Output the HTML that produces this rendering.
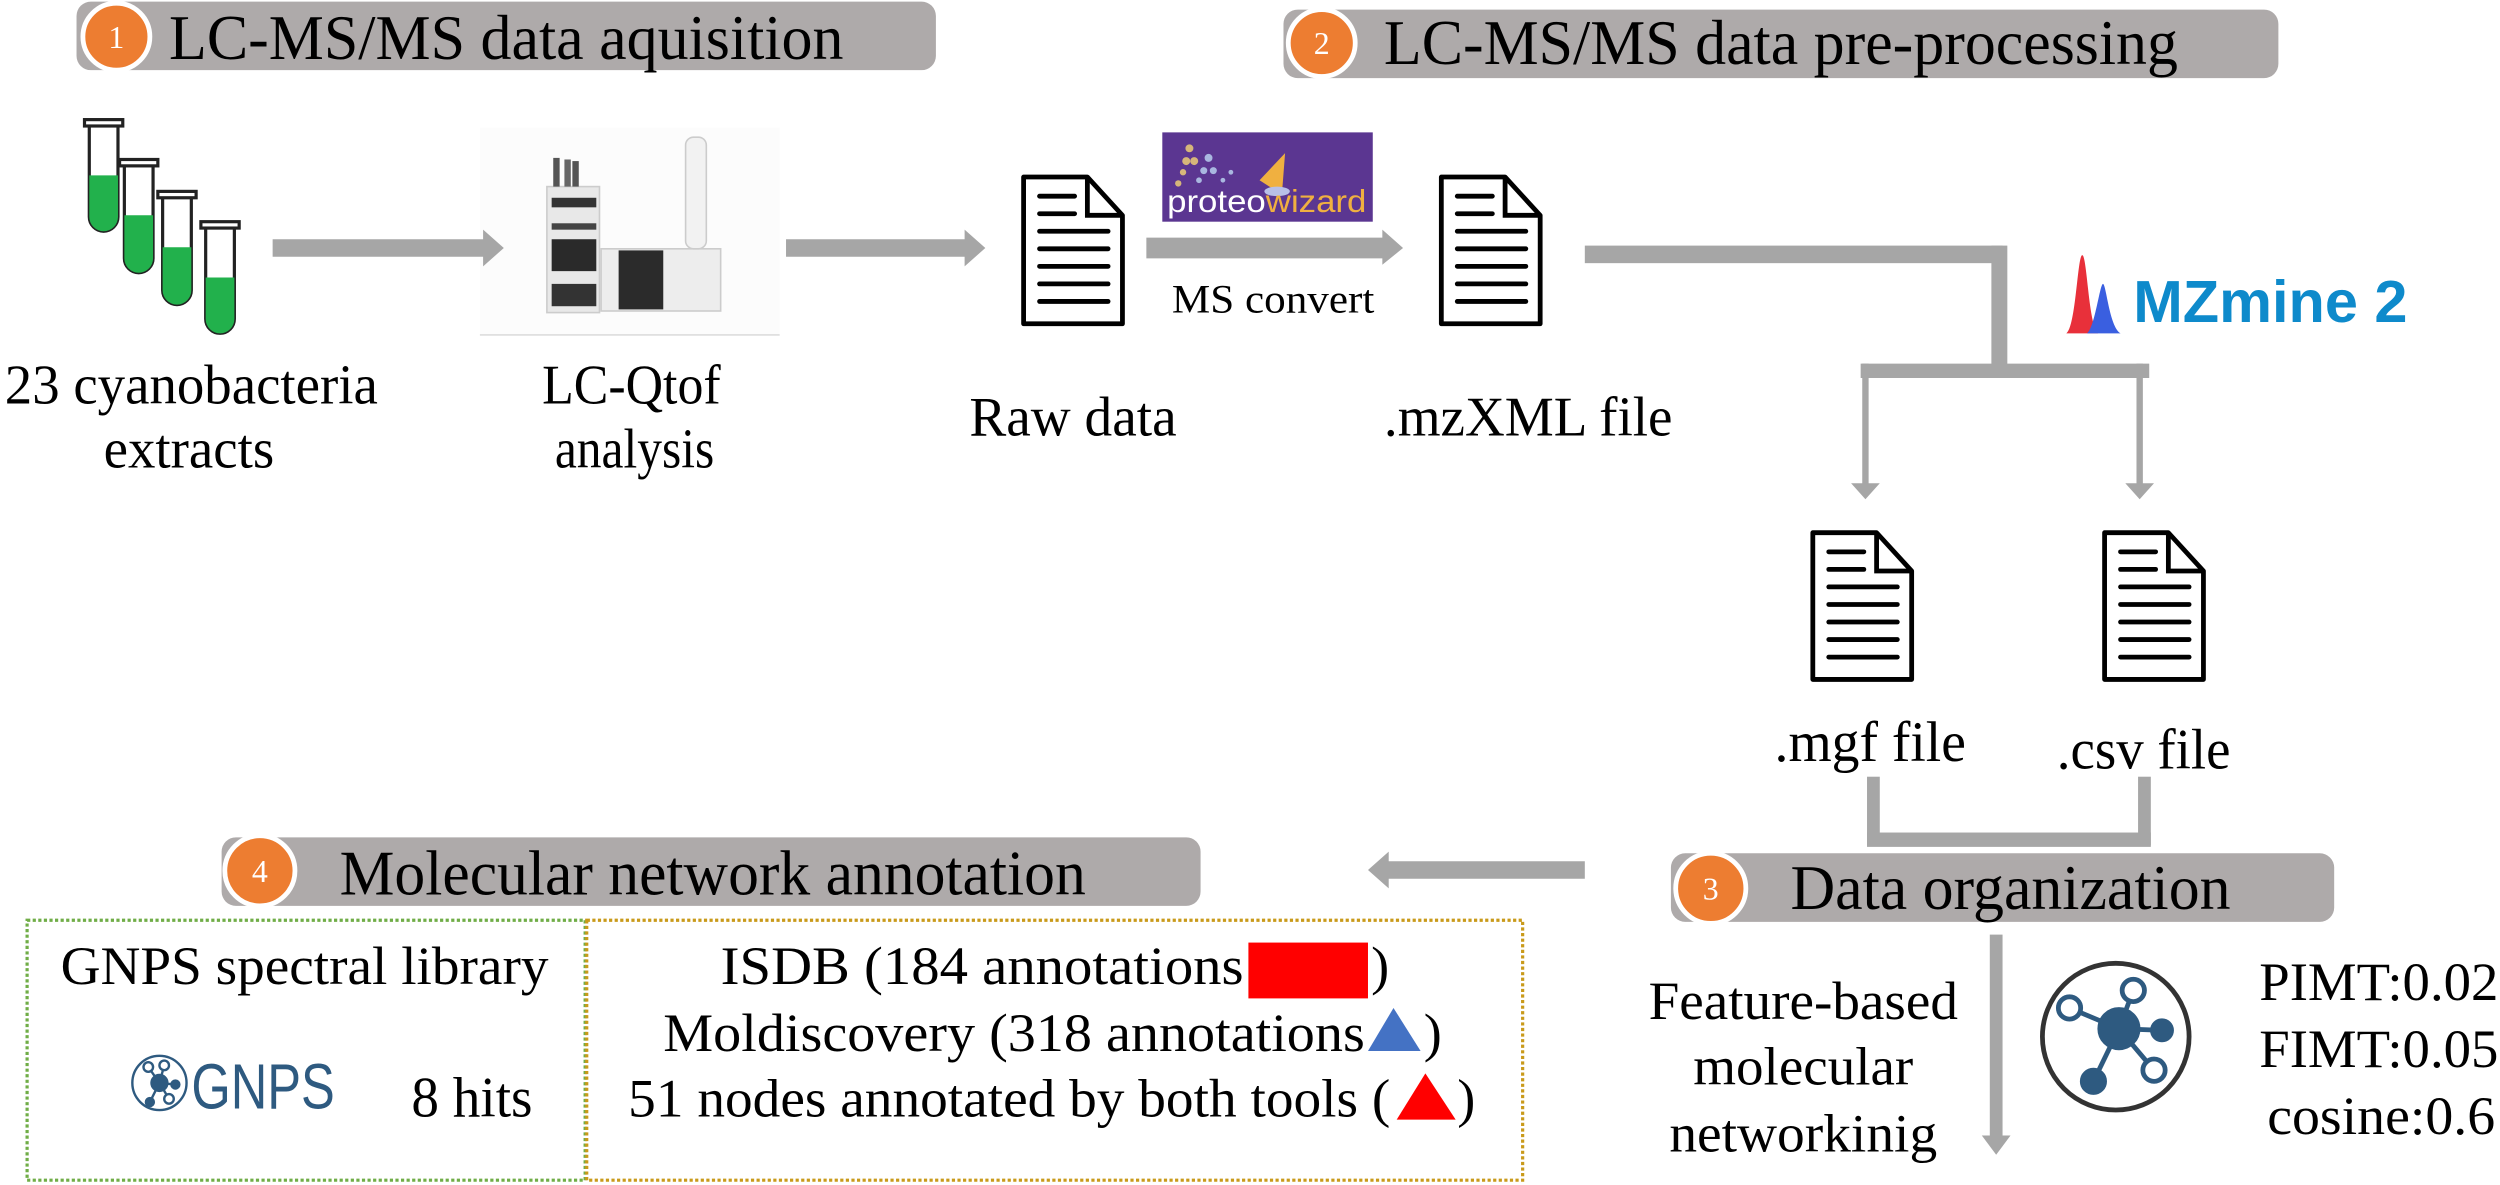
<!DOCTYPE html>
<html><head><meta charset="utf-8"><style>
html,body{margin:0;padding:0;background:#fff;}
svg{display:block;}
text{font-family:"Liberation Serif",serif;fill:#000;}
</style></head><body>
<svg width="2500" height="1185" viewBox="0 0 1568 743" preserveAspectRatio="none" xmlns="http://www.w3.org/2000/svg">
<defs>
<g id="doc">
<path d="M0,0 H40 L62,24 V92 H0 Z" fill="#fff" stroke="#000" stroke-width="3" stroke-linejoin="round"/>
<path d="M40,0 V24 H62" fill="none" stroke="#000" stroke-width="3"/>
<g stroke="#000" stroke-width="3" stroke-linecap="round">
<line x1="10" y1="12" x2="32" y2="12"/><line x1="10" y1="23" x2="32" y2="23"/>
<line x1="10" y1="34" x2="53" y2="34"/><line x1="10" y1="45" x2="53" y2="45"/>
<line x1="10" y1="56" x2="53" y2="56"/><line x1="10" y1="67" x2="53" y2="67"/>
<line x1="10" y1="78" x2="53" y2="78"/></g>
</g>
</defs>

<!-- Banners -->
<rect x="48" y="1" width="539" height="43" rx="9" fill="#aeaaaa"/>
<circle cx="73" cy="23" r="21" fill="#ed7d31" stroke="#fff" stroke-width="3"/>
<text x="73" y="30" font-size="20" text-anchor="middle" style="fill:#fff">1</text>
<text x="106" y="37" font-size="40" textLength="423" lengthAdjust="spacingAndGlyphs">LC-MS/MS data aquisition</text>

<rect x="805" y="6" width="624" height="43" rx="9" fill="#aeaaaa"/>
<circle cx="829" cy="27" r="21" fill="#ed7d31" stroke="#fff" stroke-width="3"/>
<text x="829" y="34" font-size="20" text-anchor="middle" style="fill:#fff">2</text>
<text x="868" y="40" font-size="40" textLength="498" lengthAdjust="spacingAndGlyphs">LC-MS/MS data pre-processing</text>

<rect x="1048" y="535" width="416" height="43" rx="9" fill="#aeaaaa"/>
<circle cx="1073" cy="557" r="22" fill="#ed7d31" stroke="#fff" stroke-width="3"/>
<text x="1073" y="564" font-size="20" text-anchor="middle" style="fill:#fff">3</text>
<text x="1123" y="570" font-size="40" textLength="276" lengthAdjust="spacingAndGlyphs">Data organization</text>

<rect x="139" y="525" width="614" height="43" rx="9" fill="#aeaaaa"/>
<circle cx="163" cy="546" r="22" fill="#ed7d31" stroke="#fff" stroke-width="3"/>
<text x="163" y="553" font-size="20" text-anchor="middle" style="fill:#fff">4</text>
<text x="213" y="561" font-size="40" textLength="468" lengthAdjust="spacingAndGlyphs">Molecular network annotation</text>

<!-- Test tubes -->
<g stroke="#222" stroke-width="2">
<path d="M56,78 V136 a9,9 0 0 0 18,0 V78" fill="#fff"/>
<path d="M56,110 V136 a9,9 0 0 0 18,0 V110 Z" fill="#22b14c" stroke="none"/>
<rect x="53" y="75" width="24" height="4" fill="#fff"/>
<path d="M78,103 V162 a9,9 0 0 0 18,0 V103" fill="#fff"/>
<path d="M78,135 V162 a9,9 0 0 0 18,0 V135 Z" fill="#22b14c" stroke="none"/>
<rect x="75" y="100" width="24" height="4" fill="#fff"/>
<path d="M102,123 V182 a9,9 0 0 0 18,0 V123" fill="#fff"/>
<path d="M102,155 V182 a9,9 0 0 0 18,0 V155 Z" fill="#22b14c" stroke="none"/>
<rect x="99" y="120" width="24" height="4" fill="#fff"/>
<path d="M129,142 V200 a9,9 0 0 0 18,0 V142" fill="#fff"/>
<path d="M129,174 V200 a9,9 0 0 0 18,0 V174 Z" fill="#22b14c" stroke="none"/>
<rect x="126" y="139" width="24" height="4" fill="#fff"/>
</g>

<!-- Instrument -->
<rect x="301" y="80" width="188" height="130" fill="#fcfcfc"/>
<line x1="301" y1="210" x2="489" y2="210" stroke="#ddd" stroke-width="1"/>
<rect x="343" y="117" width="33" height="79" fill="#e8e8e8" stroke="#ccc"/>
<rect x="346" y="124" width="28" height="6" fill="#333"/>
<rect x="346" y="140" width="28" height="4" fill="#444"/>
<rect x="346" y="150" width="28" height="20" fill="#2a2a2a"/>
<rect x="346" y="178" width="28" height="14" fill="#333"/>
<rect x="347" y="99" width="4" height="18" fill="#555"/><rect x="354" y="100" width="4" height="17" fill="#666"/><rect x="359" y="101" width="4" height="16" fill="#555"/>
<rect x="377" y="156" width="75" height="39" fill="#ededed" stroke="#ccc"/>
<rect x="388" y="157" width="28" height="37" fill="#2b2b2b"/>
<rect x="430" y="86" width="13" height="70" rx="5" fill="#f2f2f2" stroke="#ccc"/>

<!-- Arrows row 1 -->
<g fill="#a6a6a6">
<polygon points="171,150 303,150 303,144 316,155.5 303,167 303,161 171,161"/>
<polygon points="493,150 605,150 605,144 618,155.5 605,167 605,161 493,161"/>
<polygon points="719,149 867,149 867,144 880,155.5 867,166 867,162 719,162"/>
</g>

<!-- Docs -->
<use href="#doc" x="642" y="111"/>
<use href="#doc" x="904" y="111"/>
<use href="#doc" x="1137" y="334"/>
<use href="#doc" x="1320" y="334"/>

<!-- Proteowizard -->
<rect x="729" y="83" width="132" height="56" fill="#5b3691"/>
<g fill="#d6b67a"><circle cx="746" cy="93" r="2.5"/><circle cx="744" cy="101" r="2.5"/><circle cx="749" cy="101" r="2.5"/><circle cx="742" cy="108" r="2"/><circle cx="739" cy="115" r="2"/></g>
<g fill="#a9b7e0"><circle cx="758" cy="99" r="2.5"/><circle cx="755" cy="107" r="2.2"/><circle cx="761" cy="107" r="2.2"/><circle cx="752" cy="113" r="1.8"/><circle cx="767" cy="113" r="1.5"/><circle cx="772" cy="108" r="1.5"/></g>
<polygon points="790,113 806,96 804,122" fill="#f0b040"/>
<ellipse cx="801" cy="120" rx="8" ry="3" fill="#b8c0e8"/>
<text x="732" y="133" font-size="20" style="font-family:'Liberation Sans',sans-serif;fill:#fff" textLength="125" lengthAdjust="spacingAndGlyphs">proteo<tspan style="fill:#f0b040">wizard</tspan></text>
<text x="735" y="196" font-size="25" textLength="127" lengthAdjust="spacingAndGlyphs">MS convert</text>

<!-- Row 1 labels -->
<text x="3" y="253" font-size="35" textLength="234" lengthAdjust="spacingAndGlyphs">23 cyanobacteria</text>
<text x="65" y="293" font-size="35" textLength="107" lengthAdjust="spacingAndGlyphs">extracts</text>
<text x="340" y="253" font-size="35" textLength="112" lengthAdjust="spacingAndGlyphs">LC-Qtof</text>
<text x="348" y="293" font-size="35" textLength="100" lengthAdjust="spacingAndGlyphs">analysis</text>
<text x="608" y="273" font-size="35" textLength="130" lengthAdjust="spacingAndGlyphs">Raw data</text>
<text x="868" y="273" font-size="35" textLength="181" lengthAdjust="spacingAndGlyphs">.mzXML file</text>

<!-- Connector to mgf/csv -->
<g fill="#a6a6a6">
<rect x="994" y="154" width="262" height="11"/>
<rect x="1249" y="154" width="10" height="78"/>
<rect x="1167" y="228" width="181" height="9"/>
<rect x="1168" y="228" width="4" height="78"/>
<rect x="1340" y="228" width="4" height="78"/>
<polygon points="1161,303 1179,303 1170,313"/>
<polygon points="1333,303 1351,303 1342,313"/>
</g>

<!-- MZmine -->
<path d="M1296,209 C1302,205 1303,160 1306,160 C1309,160 1310,205 1316,209 Z" fill="#e8303a"/>
<path d="M1309,209 C1314,205 1317,178 1319,178 C1321,178 1323,205 1330,209 Z" fill="#3a5fe0"/>
<text x="1338" y="202" font-size="37" font-weight="bold" style="font-family:'Liberation Sans',sans-serif;fill:#0e8acb" textLength="172" lengthAdjust="spacingAndGlyphs">MZmine 2</text>

<text x="1113" y="477" font-size="36" textLength="120" lengthAdjust="spacingAndGlyphs">.mgf file</text>
<text x="1290" y="482" font-size="36" textLength="109" lengthAdjust="spacingAndGlyphs">.csv file</text>

<!-- bracket -->
<g fill="#a6a6a6">
<rect x="1171" y="487" width="8" height="43"/>
<rect x="1341" y="487" width="8" height="43"/>
<rect x="1171" y="522" width="178" height="9"/>
<polygon points="994,540 871,540 871,534 858,545.5 871,557 871,551 994,551"/>
<rect x="1248" y="586" width="8" height="128"/>
<polygon points="1243,712 1261,712 1252,724"/>
</g>

<!-- Data organization details -->
<text x="1034" y="639" font-size="34" textLength="194" lengthAdjust="spacingAndGlyphs">Feature-based</text>
<text x="1062" y="680" font-size="34" textLength="138" lengthAdjust="spacingAndGlyphs">molecular</text>
<text x="1047" y="722" font-size="34" textLength="168" lengthAdjust="spacingAndGlyphs">networkinig</text>

<circle cx="1327" cy="650" r="46" fill="#fff" stroke="#333" stroke-width="3"/>
<g stroke="#2e5a80" stroke-width="3" fill="#fff">
<line x1="1329" y1="645" x2="1338" y2="621"/>
<line x1="1329" y1="645" x2="1298" y2="632"/>
<line x1="1329" y1="645" x2="1356" y2="646"/>
<line x1="1329" y1="645" x2="1351" y2="671"/>
<line x1="1329" y1="645" x2="1313" y2="678"/>
<circle cx="1338" cy="621" r="7"/>
<circle cx="1298" cy="632" r="7"/>
<circle cx="1351" cy="671" r="7"/>
<circle cx="1356" cy="646" r="6" fill="#2e5a80"/>
<circle cx="1313" cy="678" r="7" fill="#2e5a80"/>
<circle cx="1329" cy="645" r="12" fill="#2e5a80"/>
</g>

<text x="1417" y="627" font-size="34" textLength="150" lengthAdjust="spacingAndGlyphs">PIMT:0.02</text>
<text x="1417" y="669" font-size="34" textLength="150" lengthAdjust="spacingAndGlyphs">FIMT:0.05</text>
<text x="1422" y="711" font-size="34" textLength="143" lengthAdjust="spacingAndGlyphs">cosine:0.6</text>

<!-- Annotation boxes -->
<rect x="17" y="577" width="350" height="163" fill="none" stroke="#70ad47" stroke-width="2" stroke-dasharray="2,1.5"/>
<rect x="368" y="577" width="587" height="163" fill="none" stroke="#c99a1a" stroke-width="2" stroke-dasharray="2,1.5"/>

<text x="38" y="617" font-size="34" textLength="306" lengthAdjust="spacingAndGlyphs">GNPS spectral library</text>
<circle cx="100" cy="679" r="17" fill="#fff" stroke="#2e5a80" stroke-width="1.5"/>
<g stroke="#2e5a80" stroke-width="1.5" fill="#fff">
<line x1="100" y1="679" x2="93" y2="669"/><line x1="100" y1="679" x2="103" y2="668"/><line x1="100" y1="679" x2="110" y2="680"/><line x1="100" y1="679" x2="106" y2="689"/><line x1="100" y1="679" x2="94" y2="691"/>
<circle cx="93" cy="669" r="3"/><circle cx="103" cy="668" r="3"/><circle cx="106" cy="689" r="3"/>
<circle cx="110" cy="680" r="2.5" fill="#2e5a80"/><circle cx="94" cy="691" r="2.5" fill="#2e5a80"/><circle cx="100" cy="679" r="5" fill="#2e5a80"/>
</g>
<text x="120" y="695" font-size="40" style="font-family:'Liberation Sans',sans-serif;fill:#2e5a80" textLength="90" lengthAdjust="spacingAndGlyphs">GNPS</text>
<text x="258" y="700" font-size="36" textLength="76" lengthAdjust="spacingAndGlyphs">8 hits</text>

<text x="452" y="617" font-size="34" textLength="328" lengthAdjust="spacingAndGlyphs">ISDB (184 annotations </text>
<rect x="783" y="591" width="75" height="35" fill="#ff0000"/>
<text x="860" y="617" font-size="34">)</text>
<text x="416" y="659" font-size="34" textLength="440" lengthAdjust="spacingAndGlyphs">Moldiscovery (318 annotations</text>
<polygon points="858,659 874,632 891,659" fill="#4472c4"/>
<text x="893" y="659" font-size="34">)</text>
<text x="394" y="700" font-size="34" textLength="478" lengthAdjust="spacingAndGlyphs">51 nodes annotated by both tools (</text>
<polygon points="876,702 894,673 913,702" fill="#ff0000"/>
<text x="914" y="700" font-size="34">)</text>
</svg>
</body></html>
